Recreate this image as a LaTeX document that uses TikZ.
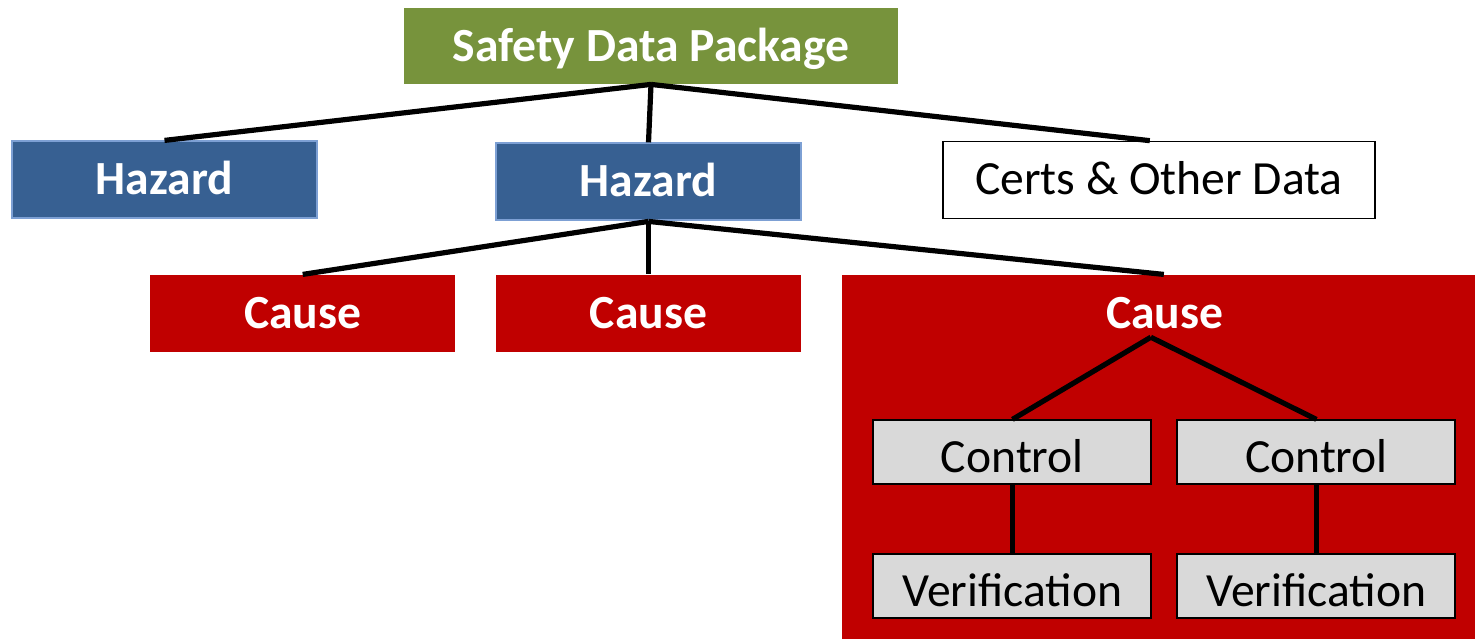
\documentclass[tikz,border=0pt]{standalone}
\usepackage{fontspec}
\setmainfont{Carlito}
\usepackage{tikz}
\usetikzlibrary{positioning}
\definecolor{sdpgreen}{RGB}{119,147,60}
\definecolor{hazblue}{RGB}{55,96,146}
\definecolor{hazedge}{RGB}{125,160,212}
\definecolor{causered}{RGB}{192,0,0}
\definecolor{ctrlgray}{RGB}{217,217,217}
\tikzstyle{box} = [rectangle, inner sep=0pt, text centered, font=\fontsize{23.8}{28}\selectfont, text height=15pt, text depth=0pt]
\tikzstyle{boldbox} = [box, text=white, font=\fontsize{23.8}{28}\selectfont\bfseries]
\tikzstyle{sdp} = [boldbox, fill=sdpgreen, minimum width=247pt, minimum height=38pt]
\tikzstyle{hazard} = [boldbox, fill=hazblue, draw=hazedge, line width=1pt, minimum width=152.5pt, minimum height=38.5pt]
\tikzstyle{cause} = [boldbox, fill=causered, minimum width=152.5pt, minimum height=38.5pt]
\tikzstyle{certs} = [box, fill=white, draw=black, line width=0.75pt, minimum width=216pt, minimum height=38.5pt]
\tikzstyle{ctrl} = [box, fill=ctrlgray, draw=black, line width=1pt, minimum width=139pt, minimum height=32pt, text height=20pt]
\tikzstyle{textonly} = [boldbox, inner sep=4pt]
\tikzstyle{tlink} = [draw, black, line width=2.6pt]

\begin{document}
\begin{tikzpicture}

\useasboundingbox (0,0) rectangle (737.5pt,-319.5pt);

% boxes =============================
\node[sdp] (sdp) at (325.5pt,-23pt) {Safety Data Package};
\node[hazard, below=29pt of sdp, xshift=-1.25pt] (haz2) {Hazard};
\node[hazard, left=88.5pt of haz2, yshift=1pt] (haz1) {Hazard};
\node[certs, right=70pt of haz2, yshift=1pt] (certs) {Certs \& Other Data};
\node[cause, below=26.5pt of haz2] (cause2) {Cause};
\node[cause, left=20pt of cause2] (cause1) {Cause};
\node[cause, below right=0pt and 20pt of cause2.north east, minimum width=317pt, minimum height=182pt] (cause3) {};
\node[textonly, below=8pt of cause3.north, xshift=3pt] (cause3lbl) {Cause};
\node[ctrl, below right=72.5pt and 15.5pt of cause3.north west] (ctrl1) {Control};
\node[ctrl, right=12pt of ctrl1] (ctrl2) {Control};
\node[ctrl, below=34pt of ctrl1] (verif1) {Verification};
\node[ctrl, below=34pt of ctrl2] (verif2) {Verification};

% links
\path[tlink] (sdp.south) -- (haz1.north);
\path[tlink] (sdp.south) -- (haz2.north);
\path[tlink] (sdp.south) -- ([xshift=-4.5pt]certs.north);

\path[tlink] (haz2.south) -- (cause1.north);
\path[tlink] (haz2.south) -- (cause2.north);
\path[tlink] (haz2.south) -- ([xshift=2.5pt]cause3.north);

\path[tlink] ([xshift=-7pt]cause3lbl.south) -- (ctrl1.north);
\path[tlink] ([xshift=-7pt]cause3lbl.south) -- (ctrl2.north);
\path[tlink] (ctrl1) -- (verif1);
\path[tlink] (ctrl2) -- (verif2);

\end{tikzpicture}
\end{document}
